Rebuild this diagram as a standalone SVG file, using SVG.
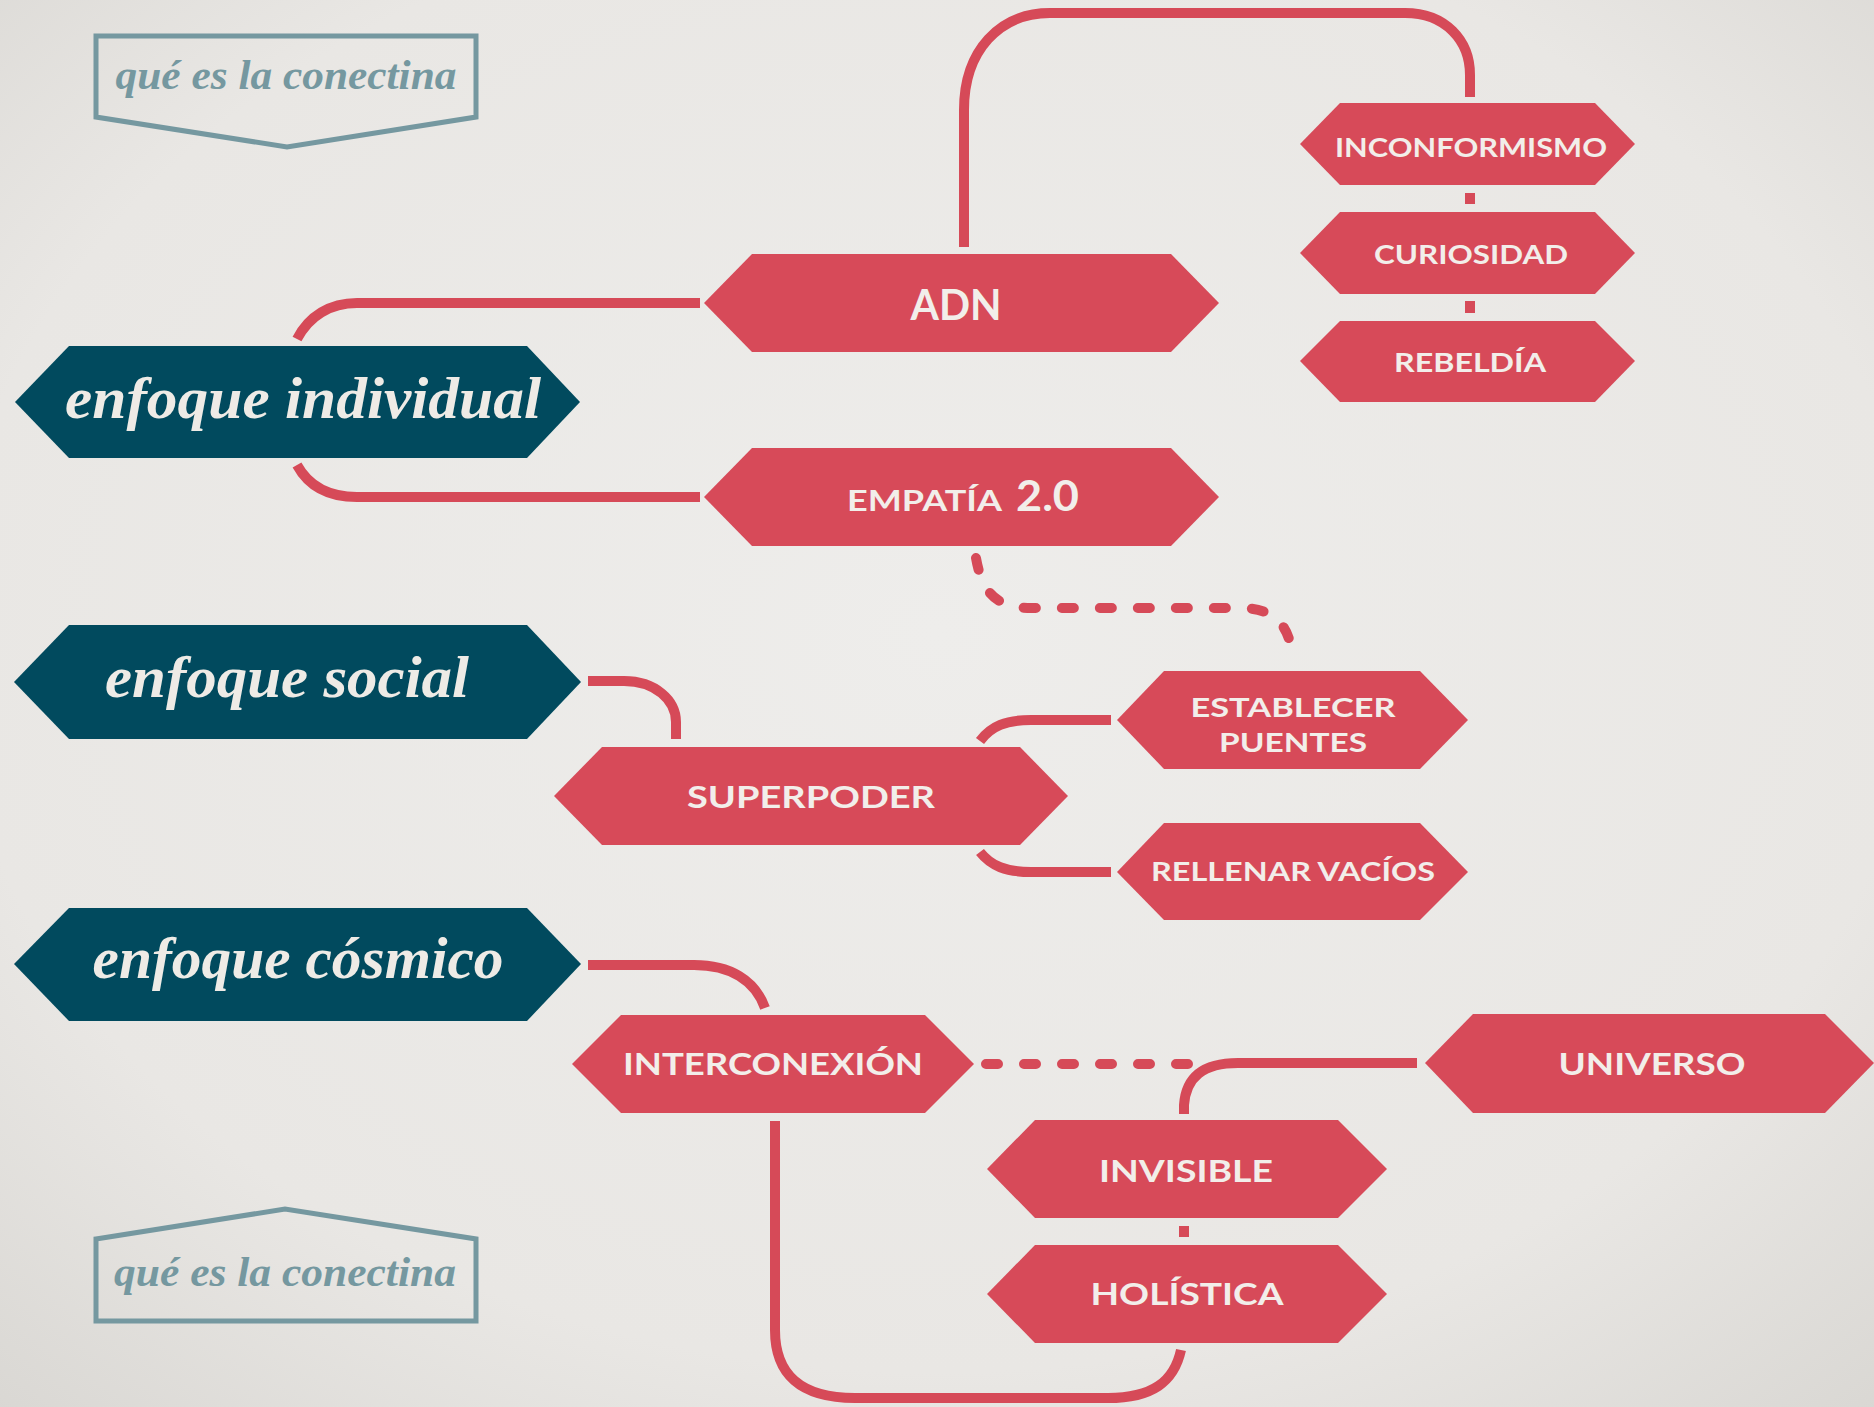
<svg xmlns="http://www.w3.org/2000/svg" width="1874" height="1407" viewBox="0 0 1874 1407">
<defs>
<radialGradient id="bg" cx="50%" cy="45%" r="75%">
<stop offset="0" stop-color="#eeedeb"/>
<stop offset="0.7" stop-color="#e9e7e4"/>
<stop offset="1" stop-color="#d9d7d3"/>
</radialGradient>
<style>
.red{fill:#d74a59}
.teal{fill:#014a5e}
.lbl{font-family:Lato,"Open Sans","Liberation Sans",sans-serif;font-weight:700;fill:#f2eeea;text-anchor:middle}
.enf{font-family:"Liberation Serif",serif;font-style:italic;font-weight:700;fill:#eeebe6;text-anchor:middle}
.qe{font-family:"Liberation Serif",serif;font-style:italic;font-weight:700;fill:#7598a0;text-anchor:middle;font-size:43px}
.box{fill:none;stroke:#7598a0;stroke-width:5}
.conn{fill:none;stroke:#d64a58;stroke-width:10}
.dash{stroke-dasharray:12 26;stroke-linecap:round}
.tick{fill:#d64a58}
</style>
</defs>
<rect width="1874" height="1407" fill="url(#bg)"/>

<g id="connectors">
<path class="conn" d="M700 303 H357 C330 303 309 316 297 339"/>
<path class="conn" d="M700 497 H357 C330 497 309 487 297 465"/>
<path class="conn" d="M964 247 V110 C964 50 1000 13 1050 13 H1405 C1445 13 1470 40 1470 75 V97"/>
<rect class="tick" x="1465" y="193" width="10" height="11"/>
<rect class="tick" x="1465" y="301" width="10" height="12"/>
<path class="conn dash" d="M976 558 C982 592 996 608 1031 608 H1240 C1276 608 1290 626 1293 660"/>
<path class="conn" d="M588 681 H624 C655 681 676 700 676 722 V739"/>
<path class="conn" d="M980 741 C991 726 1006 720 1031 720 H1111"/>
<path class="conn" d="M980 852 C991 866 1006 872 1031 872 H1111"/>
<path class="conn" d="M588 965 H694 C730 965 755 980 765 1008"/>
<path class="conn dash" d="M986 1064 H1192"/>
<path class="conn" d="M1417 1063 H1238 C1203 1063 1186 1077 1184 1105 V1114"/>
<path class="conn" d="M775 1121 V1330 C775 1374 800 1398 855 1398 H1108 C1152 1398 1174 1382 1181 1350"/>
<rect class="tick" x="1179" y="1226" width="10" height="11"/>
</g>

<g id="que-top">
<polygon class="box" points="96,36 476,36 476,117 287,147 96,117"/>
<text class="qe" x="286" y="89" textLength="341" lengthAdjust="spacingAndGlyphs">qué es la conectina</text>
</g>

<g id="que-bottom">
<polygon class="box" points="96,1239 285,1209 476,1239 476,1321 96,1321"/>
<text class="qe" x="285" y="1286" textLength="342" lengthAdjust="spacingAndGlyphs">qué es la conectina</text>
</g>

<g id="enfoque-individual">
<polygon class="teal" points="15,402 69,346 527,346 580,402 527,458 69,458"/>
<text class="enf" x="303" y="418" font-size="60" textLength="476" lengthAdjust="spacingAndGlyphs">enfoque individual</text>
</g>

<g id="enfoque-social">
<polygon class="teal" points="14,682 69,625 527,625 581,682 527,739 69,739"/>
<text class="enf" x="287" y="697" font-size="60" textLength="364" lengthAdjust="spacingAndGlyphs">enfoque social</text>
</g>

<g id="enfoque-cosmico">
<polygon class="teal" points="14,964 69,908 527,908 581,964 527,1021 69,1021"/>
<text class="enf" x="298" y="978" font-size="60" textLength="411" lengthAdjust="spacingAndGlyphs">enfoque cósmico</text>
</g>

<g id="adn">
<polygon class="red" points="704,303 752,254 1171,254 1219,303 1171,352 752,352"/>
<text class="lbl" x="956" y="320" font-size="42" font-weight="600" textLength="91" lengthAdjust="spacingAndGlyphs">ADN</text>
</g>

<g id="inconformismo">
<polygon class="red" points="1300,144 1340,103 1595,103 1635,144 1595,185 1340,185"/>
<text class="lbl" x="1471" y="157" font-size="27" textLength="272" lengthAdjust="spacingAndGlyphs">INCONFORMISMO</text>
</g>

<g id="curiosidad">
<polygon class="red" points="1300,253 1340,212 1595,212 1635,253 1595,294 1340,294"/>
<text class="lbl" x="1471" y="264" font-size="26" textLength="194" lengthAdjust="spacingAndGlyphs">CURIOSIDAD</text>
</g>

<g id="rebeldia">
<polygon class="red" points="1300,361 1340,321 1595,321 1635,361 1595,402 1340,402"/>
<text class="lbl" x="1470" y="372" font-size="26" textLength="152" lengthAdjust="spacingAndGlyphs">REBELDÍA</text>
</g>

<g id="empatia">
<polygon class="red" points="704,497 752,448 1171,448 1219,497 1171,546 752,546"/>
<text class="lbl" x="847" y="511" font-size="29" style="text-anchor:start" textLength="155" lengthAdjust="spacingAndGlyphs">EMPATÍA</text>
<text class="lbl" x="1016" y="511" font-size="42" style="text-anchor:start" textLength="63" lengthAdjust="spacingAndGlyphs">2.0</text>
</g>

<g id="superpoder">
<polygon class="red" points="554,796 602,747 1020,747 1068,796 1020,845 602,845"/>
<text class="lbl" x="811" y="808" font-size="30" textLength="248" lengthAdjust="spacingAndGlyphs">SUPERPODER</text>
</g>

<g id="establecer-puentes">
<polygon class="red" points="1117,720 1164,671 1420,671 1468,720 1420,769 1164,769"/>
<text class="lbl" x="1293" y="717" font-size="27" textLength="205" lengthAdjust="spacingAndGlyphs">ESTABLECER</text>
<text class="lbl" x="1293" y="752" font-size="27" textLength="148" lengthAdjust="spacingAndGlyphs">PUENTES</text>
</g>

<g id="rellenar-vacios">
<polygon class="red" points="1117,872 1164,823 1420,823 1468,872 1420,920 1164,920"/>
<text class="lbl" x="1293" y="881" font-size="27" textLength="284" lengthAdjust="spacingAndGlyphs">RELLENAR VACÍOS</text>
</g>

<g id="interconexion">
<polygon class="red" points="572,1064 621,1015 925,1015 974,1064 925,1113 621,1113"/>
<text class="lbl" x="773" y="1075" font-size="31" textLength="300" lengthAdjust="spacingAndGlyphs">INTERCONEXIÓN</text>
</g>

<g id="universo">
<polygon class="red" points="1425,1063 1473,1014 1825,1014 1874,1063 1825,1113 1473,1113"/>
<text class="lbl" x="1652" y="1075" font-size="31" textLength="187" lengthAdjust="spacingAndGlyphs">UNIVERSO</text>
</g>

<g id="invisible">
<polygon class="red" points="987,1169 1035,1120 1338,1120 1387,1169 1338,1218 1035,1218"/>
<text class="lbl" x="1186" y="1182" font-size="31" textLength="174" lengthAdjust="spacingAndGlyphs">INVISIBLE</text>
</g>

<g id="holistica">
<polygon class="red" points="987,1294 1035,1245 1338,1245 1387,1294 1338,1343 1035,1343"/>
<text class="lbl" x="1187" y="1305" font-size="30" textLength="193" lengthAdjust="spacingAndGlyphs">HOLÍSTICA</text>
</g>
</svg>
